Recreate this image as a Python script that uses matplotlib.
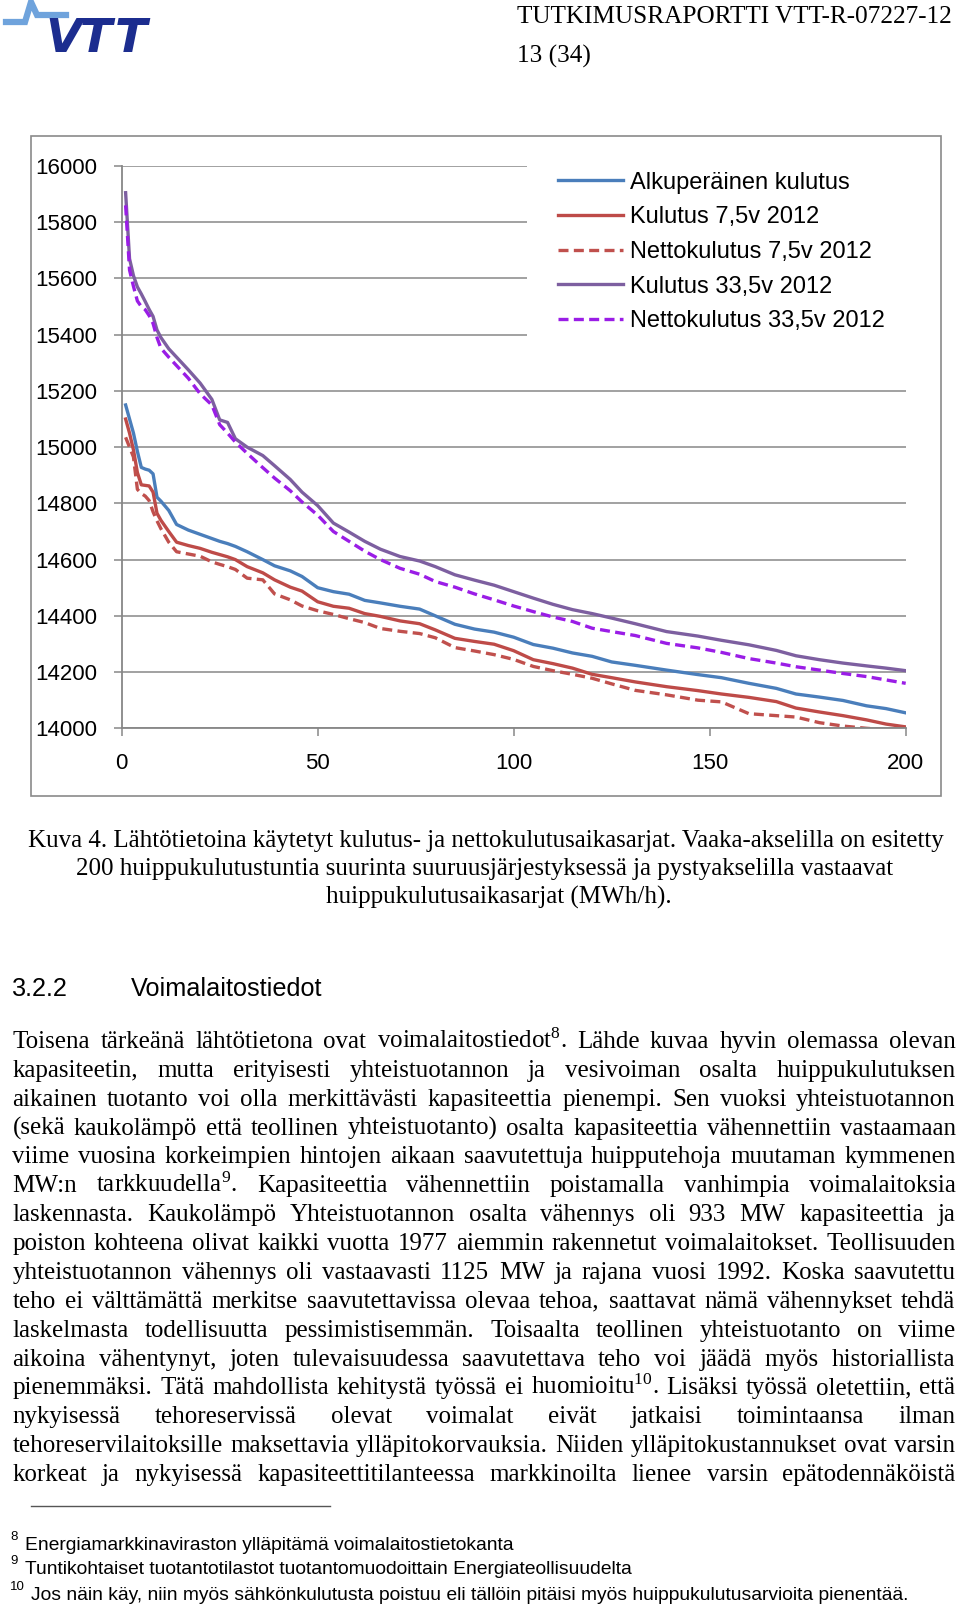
import matplotlib
matplotlib.use("Agg")
from matplotlib import pyplot as plt
from matplotlib.lines import Line2D
from matplotlib.patches import Rectangle

W, H = 960, 1604
SERIF = "Liberation Serif"
SANS = "Liberation Sans"

plt.rcParams["font.family"] = [SANS, "DejaVu Sans"]
plt.rcParams["mathtext.fontset"] = "custom"
plt.rcParams["mathtext.rm"] = SERIF
plt.rcParams["mathtext.it"] = SERIF + ":italic"
plt.rcParams["mathtext.bf"] = SERIF + ":bold"

# 200 huipputuntia, arvot luettu kuvasta (MWh/h)
hours = [1, 2, 3, 4, 5, 6, 7, 8, 9, 10, 12, 14, 17, 20, 23, 25, 27, 29, 32, 36,
         39, 43, 46, 50, 54, 58, 62, 66, 71, 76, 80, 85, 90, 95, 100, 105, 110,
         115, 120, 125, 131, 139, 147, 153, 160, 167, 172, 178, 184, 190, 195, 200]

alkuperainen = [15150, 15100, 15050, 14985, 14928, 14922, 14918, 14905, 14822, 14808,
                14775, 14725, 14705, 14690, 14675, 14665, 14657, 14647, 14628, 14600,
                14578, 14560, 14540, 14500, 14486, 14477, 14455, 14446, 14434, 14424,
                14400, 14370, 14353, 14342, 14324, 14298, 14285, 14268, 14256, 14236,
                14224, 14207, 14191, 14180, 14160, 14142, 14122, 14111, 14099, 14080,
                14070, 14055]

kulutus_75 = [15100, 15050, 14990, 14910, 14866, 14864, 14862, 14840, 14765, 14740,
              14700, 14662, 14650, 14640, 14626, 14618, 14610, 14600, 14575, 14553,
              14528, 14502, 14488, 14450, 14434, 14427, 14408, 14398, 14382, 14372,
              14350, 14320, 14309, 14299, 14276, 14244, 14230, 14214, 14192, 14180,
              14165, 14148, 14134, 14122, 14110, 14095, 14072, 14058, 14045, 14030,
              14015, 14005]

netto_75 = [15035, 15000, 14965, 14850, 14835, 14826, 14810, 14770, 14738, 14710,
            14662, 14628, 14620, 14612, 14592, 14583, 14575, 14565, 14534, 14528,
            14478, 14457, 14435, 14418, 14405, 14390, 14376, 14355, 14345, 14337,
            14322, 14287, 14275, 14262, 14245, 14220, 14205, 14192, 14178, 14158,
            14135, 14119, 14100, 14094, 14052, 14045, 14040, 14020, 14008, 14000,
            13995, 13990]

kulutus_335 = [15905, 15670, 15610, 15570, 15545, 15518, 15490, 15465, 15417, 15390,
               15350, 15320, 15275, 15228, 15170, 15097, 15088, 15030, 15000, 14970,
               14934, 14885, 14840, 14792, 14730, 14698, 14665, 14637, 14611, 14595,
               14575, 14546, 14527, 14509, 14486, 14463, 14441, 14422, 14408, 14392,
               14372, 14344, 14328, 14313, 14297, 14277, 14258, 14244, 14232, 14222,
               14214, 14205]

netto_335 = [15860, 15630, 15572, 15520, 15500, 15489, 15468, 15440, 15390, 15352,
             15320, 15290, 15245, 15190, 15150, 15080, 15050, 15018, 14978, 14927,
             14890, 14845, 14805, 14758, 14700, 14665, 14630, 14600, 14569, 14548,
             14522, 14502, 14478, 14457, 14435, 14415, 14396, 14380, 14356, 14344,
             14330, 14302, 14286, 14270, 14248, 14232, 14219, 14207, 14195, 14184,
             14172, 14160]

series_labels = ["Alkuperäinen kulutus", "Kulutus 7,5v 2012", "Nettokulutus 7,5v 2012",
                 "Kulutus 33,5v 2012", "Nettokulutus 33,5v 2012"]
y_ticks = [14000, 14200, 14400, 14600, 14800, 15000, 15200, 15400, 15600, 15800, 16000]
x_ticks = [0, 50, 100, 150, 200]

caption_lines = [
    "Kuva 4. Lähtötietoina käytetyt kulutus- ja nettokulutusaikasarjat. Vaaka-akselilla on esitetty",
    "200 huippukulutustuntia suurinta suuruusjärjestyksessä ja pystyakselilla vastaavat",
    "huippukulutusaikasarjat (MWh/h).",
]

body_lines = [
    r"Toisena tärkeänä lähtötietona ovat voimalaitostiedot$^{\mathrm{8}}$. Lähde kuvaa hyvin olemassa olevan",
    "kapasiteetin, mutta erityisesti yhteistuotannon ja vesivoiman osalta huippukulutuksen",
    "aikainen tuotanto voi olla merkittävästi kapasiteettia pienempi. Sen vuoksi yhteistuotannon",
    "(sekä kaukolämpö että teollinen yhteistuotanto) osalta kapasiteettia vähennettiin vastaamaan",
    "viime vuosina korkeimpien hintojen aikaan saavutettuja huipputehoja muutaman kymmenen",
    r"MW:n tarkkuudella$^{\mathrm{9}}$. Kapasiteettia vähennettiin poistamalla vanhimpia voimalaitoksia",
    "laskennasta. Kaukolämpö Yhteistuotannon osalta vähennys oli 933 MW kapasiteettia ja",
    "poiston kohteena olivat kaikki vuotta 1977 aiemmin rakennetut voimalaitokset. Teollisuuden",
    "yhteistuotannon vähennys oli vastaavasti 1125 MW ja rajana vuosi 1992. Koska saavutettu",
    "teho ei välttämättä merkitse saavutettavissa olevaa tehoa, saattavat nämä vähennykset tehdä",
    "laskelmasta todellisuutta pessimistisemmän. Toisaalta teollinen yhteistuotanto on viime",
    "aikoina vähentynyt, joten tulevaisuudessa saavutettava teho voi jäädä myös historiallista",
    r"pienemmäksi. Tätä mahdollista kehitystä työssä ei huomioitu$^{\mathrm{10}}$. Lisäksi työssä oletettiin, että",
    "nykyisessä tehoreservissä olevat voimalat eivät jatkaisi toimintaansa ilman",
    "tehoreservilaitoksille maksettavia ylläpitokorvauksia. Niiden ylläpitokustannukset ovat varsin",
    "korkeat ja nykyisessä kapasiteettitilanteessa markkinoilta lienee varsin epätodennäköistä",
]

footnote_nums = ["8", "9", "10"]
footnote_texts = [
    "Energiamarkkinaviraston ylläpitämä voimalaitostietokanta",
    "Tuntikohtaiset tuotantotilastot tuotantomuodoittain Energiateollisuudelta",
    "Jos näin käy, niin myös sähkönkulutusta poistuu eli tällöin pitäisi myös huippukulutusarvioita pienentää.",
]


def fx(x):
    return x / W


def fy(y):
    return 1 - y / H


fig = plt.figure(figsize=(W / 100, H / 100), dpi=100)
renderer = fig.canvas.get_renderer()

# --- header ---
fig.text(fx(517), fy(17), "TUTKIMUSRAPORTTI VTT-R-07227-12", family=SERIF,
         fontsize=18.2, va="center", ha="left")
fig.text(fx(517), fy(56), "13 (34)", family=SERIF, fontsize=18.2, va="center", ha="left")

# VTT logo (rough)
fig.add_artist(Line2D([fx(6), fx(25), fx(31), fx(37), fx(66)],
                      [fy(22), fy(22), fy(2), fy(15), fy(15)],
                      transform=fig.transFigure, color="#6fa3dc", lw=4.5,
                      solid_joinstyle="miter"))
for letter, lx in zip("VTT", [45, 80, 115]):
    fig.text(fx(lx), fy(52), letter, fontsize=34, fontweight="heavy", fontstyle="italic",
             family="DejaVu Sans", color="#1c2d8f", va="baseline", ha="left")

# --- chart frame ---
fig.add_artist(Rectangle((fx(31), fy(796)), (941 - 31) / W, (796 - 136) / H,
                         transform=fig.transFigure, fill=False,
                         edgecolor="#8a8a8a", lw=1.2))

ax = fig.add_axes([fx(121.7), fy(728.3), 784 / W, 562.3 / H])
lw = 2.4
ax.plot(hours, alkuperainen, color="#4a7ebb", lw=lw, label=series_labels[0])
ax.plot(hours, kulutus_75, color="#be4b48", lw=lw, label=series_labels[1])
ax.plot(hours, netto_75, color="#c0504d", lw=lw, ls=(0, (3, 1.6)), label=series_labels[2])
ax.plot(hours, kulutus_335, color="#7d5fa0", lw=lw, label=series_labels[3])
ax.plot(hours, netto_335, color="#9a1de6", lw=lw, ls=(0, (3, 1.6)), label=series_labels[4])

ax.set_xlim(0, 200)
ax.set_ylim(14000, 16000)
ax.set_yticks(y_ticks)
ax.set_xticks(x_ticks)
ax.grid(axis="y", color="#878787", lw=1.1)
ax.set_axisbelow(True)
for side in ["top", "right"]:
    ax.spines[side].set_visible(False)
for side in ["left", "bottom"]:
    ax.spines[side].set_color("#878787")
    ax.spines[side].set_linewidth(1.3)
ax.tick_params(axis="both", length=5.5, width=1.1, color="#878787", labelsize=16)
ax.tick_params(axis="y", pad=12)
ax.tick_params(axis="x", pad=12)

leg = ax.legend(loc="upper left", mode="expand",
                bbox_to_anchor=(fx(527), fy(352), (912 - 527) / W, (352 - 141) / H),
                bbox_transform=fig.transFigure, borderaxespad=0, borderpad=1.3,
                fontsize=17, handlelength=2.75, handletextpad=0.3, labelspacing=0.535,
                frameon=True, fancybox=False, framealpha=1, facecolor="white",
                edgecolor="none")

# --- caption ---
cap_y = [841, 869, 897.5]
cap_x = [486, 485, 499]
for line, y, x in zip(caption_lines, cap_y, cap_x):
    fig.text(fx(x), fy(y), line, family=SERIF, fontsize=18, ha="center", va="center")

# --- heading ---
fig.text(fx(12), fy(989), "3.2.2", family=SANS, fontsize=18.2, va="center")
fig.text(fx(131), fy(989), "Voimalaitostiedot", family=SANS, fontsize=18.2, va="center")

# --- justified body text ---
x_left, x_right = 12.5, 955.5
for i, line in enumerate(body_lines):
    base = 1048 + i * 28.87
    words = line.split(" ")
    items = [fig.text(0, fy(base), w, family=SERIF, fontsize=18, va="baseline")
             for w in words]
    widths = [t.get_window_extent(renderer).width for t in items]
    gap = (x_right - x_left - sum(widths)) / (len(words) - 1)
    x = x_left
    for t, w in zip(items, widths):
        t.set_x(fx(x))
        x += w + gap

# --- footnotes ---
fig.add_artist(Line2D([fx(30.7), fx(330)], [fy(1506), fy(1506)],
                      transform=fig.transFigure, color="#555555", lw=1))
fn_y = [1545.5, 1570, 1595.6]
fn_x = [24.6, 24.6, 30.7]
for num, txt, y, x in zip(footnote_nums, footnote_texts, fn_y, fn_x):
    fig.text(fx(10), fy(y - 9), num, family=SANS, fontsize=9.5, va="center")
    fig.text(fx(x), fy(y), txt, family=SANS, fontsize=13.9, va="center")

fig.savefig("out.png", dpi=100)
